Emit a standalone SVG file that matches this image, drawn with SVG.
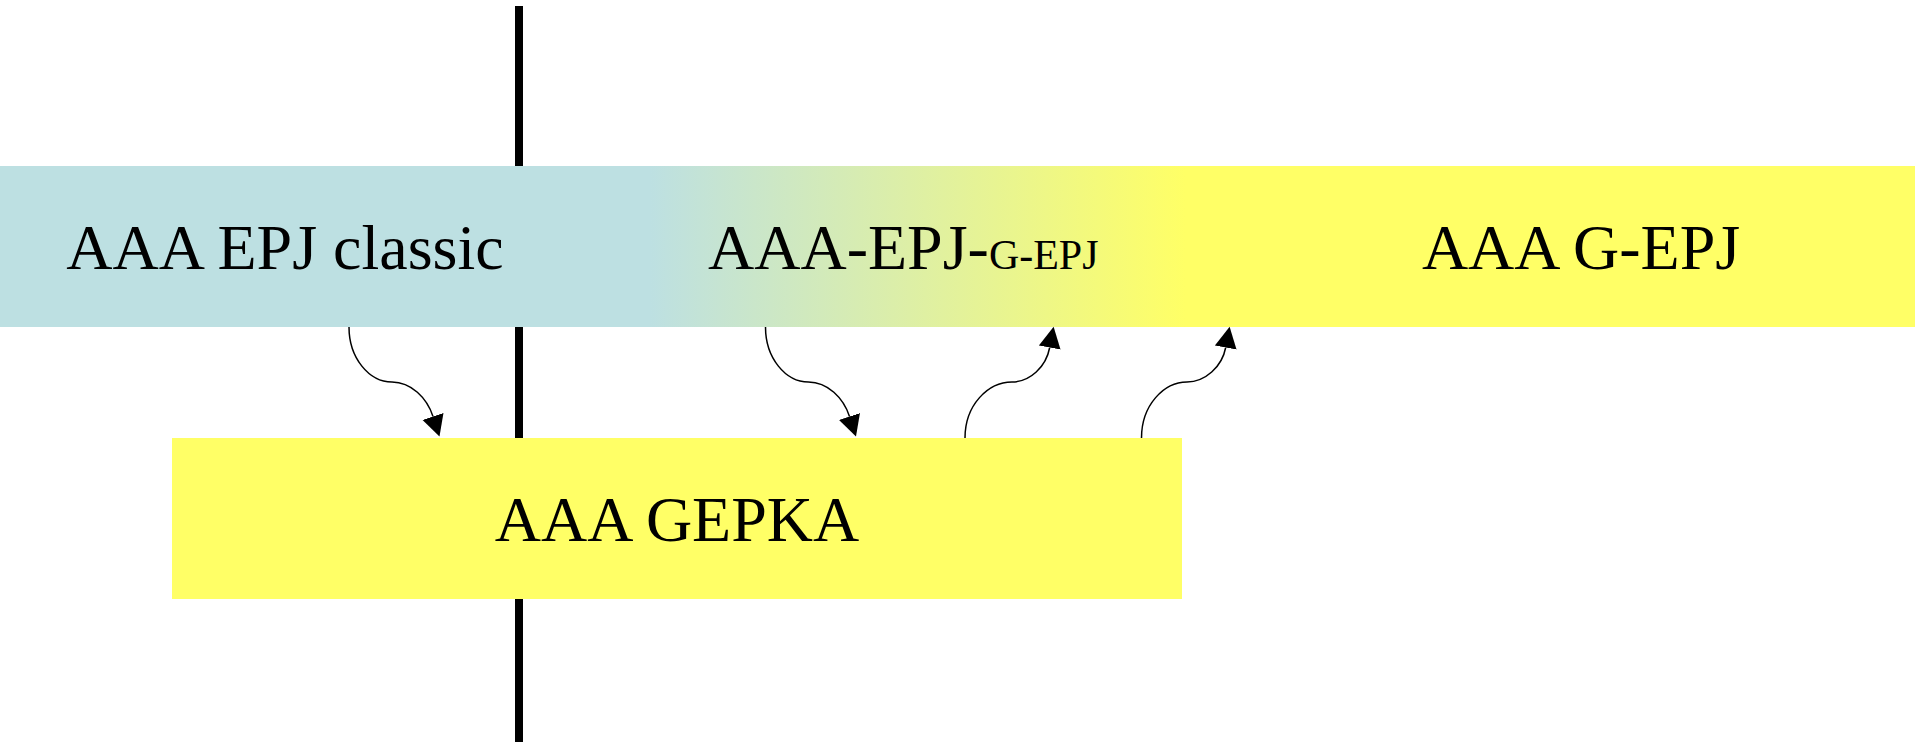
<svg xmlns="http://www.w3.org/2000/svg" width="1915" height="746" viewBox="0 0 1915 746">
  <style>
    .lbl { font-family: "Liberation Serif", "Times New Roman", serif; font-size: 64px; fill: #000; }
    .sm { font-size: 42px; }
    .conn { fill: none; stroke: #000; stroke-width: 1.5; }
  </style>
  <defs>
    <linearGradient id="bandGrad" gradientUnits="userSpaceOnUse" x1="650" y1="0" x2="1185" y2="0">
      <stop offset="0" stop-color="#bde0e2"/>
      <stop offset="1" stop-color="#ffff66"/>
    </linearGradient>
    <marker id="arrow" markerUnits="userSpaceOnUse" markerWidth="24" markerHeight="24" viewBox="0 -12 24 24" refX="0" refY="0" orient="auto">
      <path d="M0,-11 L21,0 L0,11 z" fill="#000"/>
    </marker>
  </defs>

  <g id="axis">
    <rect x="515" y="6" width="8" height="736" fill="#000"/>
  </g>

  <g id="band">
    <rect x="0" y="166" width="1915" height="161" fill="url(#bandGrad)"/>
  </g>

  <g id="node-epj-classic">
    <text class="lbl" x="285" y="269" text-anchor="middle">AAA EPJ classic</text>
  </g>

  <g id="node-epj-gepj">
    <text class="lbl" x="708" y="269">AAA-EPJ-<tspan class="sm">G-EPJ</tspan></text>
  </g>

  <g id="node-gepj">
    <text class="lbl" x="1581" y="269" text-anchor="middle">AAA G-EPJ</text>
  </g>

  <g id="node-gepka">
    <rect x="172" y="438" width="1010" height="161" fill="#ffff66"/>
    <text class="lbl" x="677" y="541" text-anchor="middle">AAA GEPKA</text>
  </g>

  <g id="connectors">
    <path class="conn" marker-end="url(#arrow)" d="M349,327 C349,358 369,382 392,382 C411,382 427,398 433,416.5"/>
    <path class="conn" marker-end="url(#arrow)" d="M765.5,327 C765.5,358 785.5,382 808.5,382 C827.5,382 843.5,398 849.5,416.5"/>
    <path class="conn" marker-end="url(#arrow)" d="M965,438 C965,405 988,382 1012,382 C1030,382 1046,367 1049.7,347.5"/>
    <path class="conn" marker-end="url(#arrow)" d="M1141.5,438 C1141.5,405 1164,382 1187,382 C1205,382 1222,367 1225.7,347.5"/>
  </g>
</svg>
